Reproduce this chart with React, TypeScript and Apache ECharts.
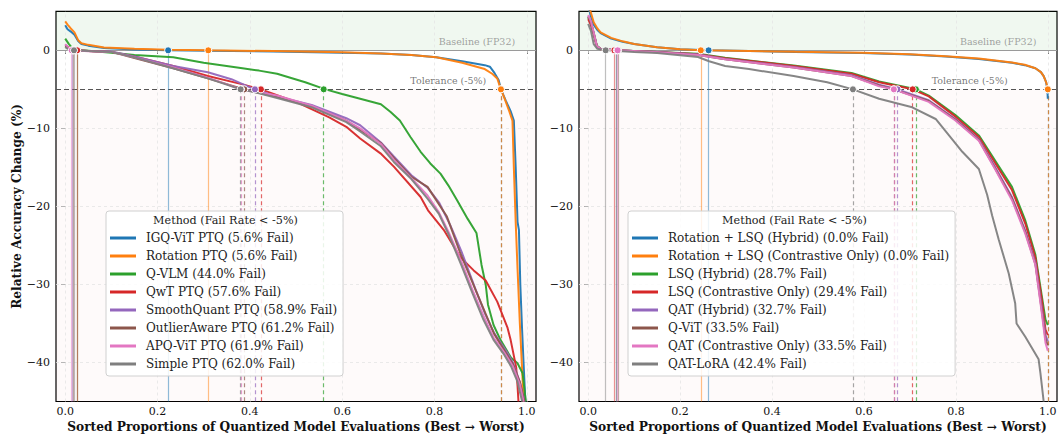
import React, { useEffect, useRef } from "react";
import * as echarts from "echarts";

// ---------- data ----------
const X_TICKS = [0, 0.2, 0.4, 0.6, 0.8, 1.0];
const Y_TICKS = [-40, -30, -20, -10, 0];

const LEFT_METHODS = ["IGQ-ViT PTQ", "Rotation PTQ", "Q-VLM", "QwT PTQ", "SmoothQuant PTQ", "OutlierAware PTQ", "APQ-ViT PTQ", "Simple PTQ"];
const LEFT_FAIL = [5.6, 5.6, 44.0, 57.6, 58.9, 61.2, 61.9, 62.0];
const LEFT_ZERO = [0.223, 0.31, 0.025, 0.026, 0.016, 0.018, 0.014, 0.019];

const RIGHT_METHODS = ["Rotation + LSQ (Hybrid)", "Rotation + LSQ (Contrastive Only)", "LSQ (Hybrid)", "LSQ (Contrastive Only)", "QAT (Hybrid)", "Q-ViT", "QAT (Contrastive Only)", "QAT-LoRA"];
const RIGHT_FAIL = [0.0, 0.0, 28.7, 29.4, 32.7, 33.5, 33.5, 42.4];
const RIGHT_ZERO = [0.262, 0.245, 0.06, 0.057, 0.062, 0.065, 0.064, 0.038];

const igqVit = [[0,3.2],[0.005,2.7],[0.012,2.4],[0.02,2.0],[0.028,1.2],[0.035,0.8],[0.05,0.6],[0.084,0.3],[0.15,0.12],[0.223,0],[0.31,-0.05],[0.45,-0.15],[0.6,-0.3],[0.684,-0.4],[0.75,-0.6],[0.804,-0.9],[0.86,-1.4],[0.909,-1.9],[0.92,-2.1],[0.93,-2.9],[0.939,-3.8],[0.944,-5],[0.955,-6.5],[0.965,-7.8],[0.972,-9],[0.976,-15],[0.98,-22],[0.983,-23],[0.986,-30],[0.99,-36],[0.993,-40],[0.997,-45]];
const rotationPtq = [[0,3.7],[0.005,3.3],[0.012,2.8],[0.02,2.3],[0.028,1.3],[0.035,0.9],[0.05,0.7],[0.084,0.35],[0.15,0.2],[0.223,0.08],[0.31,0],[0.45,-0.1],[0.6,-0.25],[0.684,-0.4],[0.75,-0.6],[0.804,-0.9],[0.86,-1.6],[0.909,-2.4],[0.925,-3.0],[0.936,-3.6],[0.944,-5],[0.952,-6.2],[0.962,-7.8],[0.969,-9],[0.972,-15],[0.976,-22],[0.98,-28],[0.985,-35],[0.99,-41],[0.993,-45]];
const qVlm = [[0,1.5],[0.008,0.8],[0.015,0.3],[0.025,0],[0.05,-0.05],[0.1,-0.3],[0.15,-0.6],[0.234,-0.9],[0.3,-1.6],[0.384,-2.3],[0.42,-2.6],[0.459,-3.0],[0.52,-4.1],[0.564,-5],[0.6,-5.6],[0.639,-6.2],[0.684,-6.9],[0.705,-7.9],[0.725,-9],[0.748,-11.1],[0.77,-13],[0.791,-14.5],[0.813,-15.8],[0.83,-17.3],[0.849,-19.2],[0.872,-21.6],[0.891,-23.4],[0.902,-27.5],[0.911,-30],[0.916,-32.6],[0.928,-35.2],[0.943,-37.1],[0.966,-39.4],[0.98,-40.1],[0.991,-41.4],[0.998,-45]];
const qwtPtq = [[0,0.6],[0.01,0.3],[0.026,0],[0.05,-0.1],[0.1,-0.2],[0.15,-0.8],[0.234,-2.0],[0.309,-3.3],[0.38,-4.3],[0.424,-5],[0.5,-6.6],[0.572,-8.6],[0.609,-9.8],[0.639,-11.3],[0.683,-13.2],[0.712,-14.9],[0.77,-18.8],[0.786,-20.5],[0.82,-23],[0.856,-26.5],[0.885,-28.2],[0.911,-29.5],[0.936,-32.2],[0.958,-35.5],[0.965,-37.1],[0.977,-40.6],[0.98,-43],[0.982,-45]];
const smoothQuantPtq = [[0,0.7],[0.006,0.4],[0.012,0.15],[0.016,0],[0.05,-0.1],[0.1,-0.15],[0.15,-0.8],[0.234,-2.0],[0.309,-2.8],[0.36,-3.7],[0.41,-5],[0.459,-5.9],[0.534,-7.0],[0.609,-8.7],[0.639,-9.6],[0.684,-11.8],[0.712,-13.6],[0.75,-16],[0.785,-17.6],[0.81,-19.5],[0.835,-22.5],[0.86,-26],[0.89,-30.8],[0.91,-33.8],[0.93,-36.3],[0.955,-38.5],[0.97,-40],[0.985,-42.5],[0.995,-45]];
const outlierAwarePtq = [[0,0.5],[0.006,0.3],[0.012,0.1],[0.018,0],[0.05,-0.1],[0.1,-0.2],[0.15,-1.0],[0.234,-2.3],[0.309,-3.6],[0.388,-5],[0.459,-6.0],[0.534,-7.2],[0.609,-9.0],[0.639,-10.2],[0.684,-11.9],[0.712,-13.8],[0.75,-16.2],[0.785,-17.5],[0.827,-21.3],[0.856,-26],[0.892,-31.1],[0.929,-36.3],[0.955,-38.8],[0.97,-40.2],[0.985,-42.5],[0.995,-45]];
const apqVitPtq = [[0,0.8],[0.006,0.4],[0.014,0],[0.05,-0.12],[0.1,-0.2],[0.15,-0.9],[0.234,-2.2],[0.309,-3.5],[0.381,-5],[0.459,-5.8],[0.534,-7.1],[0.609,-9.0],[0.639,-10.0],[0.684,-12.0],[0.712,-14.0],[0.75,-16.4],[0.785,-18.6],[0.81,-20.8],[0.83,-23.2],[0.858,-27],[0.883,-30.8],[0.906,-34],[0.928,-36.8],[0.951,-38.7],[0.97,-40.5],[0.985,-42.8],[0.993,-45]];
const simplePtq = [[0,0.4],[0.005,0.2],[0.012,0.1],[0.019,0],[0.05,-0.1],[0.1,-0.2],[0.15,-0.9],[0.234,-2.3],[0.309,-3.6],[0.345,-4.3],[0.38,-5],[0.42,-5.5],[0.459,-6.1],[0.534,-7.3],[0.609,-9.2],[0.639,-10.4],[0.684,-12.3],[0.712,-14.3],[0.75,-16.5],[0.785,-19],[0.81,-21],[0.83,-23.5],[0.858,-27.5],[0.883,-31.2],[0.906,-34.5],[0.928,-37.1],[0.951,-39],[0.966,-40.5],[0.98,-42.5],[0.99,-45]];

const rotLsqHybrid = [[0,6],[0.005,4.5],[0.012,3.3],[0.02,2.6],[0.027,2.2],[0.05,1.5],[0.075,1.1],[0.1,0.8],[0.15,0.4],[0.2,0.15],[0.262,0],[0.35,-0.1],[0.45,-0.2],[0.596,-0.35],[0.7,-0.55],[0.778,-0.8],[0.85,-1.1],[0.922,-1.6],[0.95,-1.9],[0.973,-2.3],[0.985,-2.8],[0.991,-3.3],[0.996,-4],[0.999,-5],[1.0,-6.2]];
const rotLsqContrastive = [[0,6.5],[0.005,5],[0.012,3.6],[0.02,2.8],[0.027,2.3],[0.05,1.6],[0.075,1.15],[0.1,0.8],[0.15,0.4],[0.2,0.15],[0.245,0],[0.35,-0.08],[0.45,-0.18],[0.596,-0.3],[0.7,-0.5],[0.778,-0.75],[0.85,-1.05],[0.922,-1.55],[0.95,-1.85],[0.973,-2.3],[0.985,-2.8],[0.991,-3.3],[0.997,-4.2],[1.0,-5]];
const lsqHybrid = [[0,4.2],[0.006,3.5],[0.012,2.2],[0.019,0.6],[0.027,0.2],[0.06,0],[0.15,-0.2],[0.239,-0.45],[0.298,-0.95],[0.447,-1.95],[0.573,-2.9],[0.633,-4.0],[0.713,-5],[0.741,-5.8],[0.799,-8.3],[0.85,-10.9],[0.886,-14.2],[0.922,-17.5],[0.951,-21.8],[0.973,-26.2],[0.987,-31.5],[0.995,-34.5],[1.0,-35.2]];
const lsqContrastive = [[0,4.0],[0.006,3.2],[0.012,2.0],[0.019,0.5],[0.027,0.15],[0.057,0],[0.15,-0.22],[0.239,-0.5],[0.298,-1.0],[0.447,-2.0],[0.573,-3.0],[0.633,-4.1],[0.706,-5],[0.741,-5.9],[0.799,-8.5],[0.85,-11.1],[0.886,-14.5],[0.922,-17.9],[0.951,-22.2],[0.973,-26.6],[0.987,-32],[0.995,-35.8],[1.0,-36.5]];
const qatHybrid = [[0,4.4],[0.006,3.6],[0.012,2.2],[0.019,0.5],[0.027,0.2],[0.062,0],[0.15,-0.22],[0.239,-0.55],[0.298,-1.1],[0.447,-2.15],[0.573,-3.2],[0.633,-4.4],[0.673,-5],[0.741,-6.4],[0.799,-8.8],[0.85,-11.4],[0.886,-15],[0.922,-18.8],[0.951,-23.1],[0.973,-27.2],[0.987,-33],[0.995,-36.5],[1.0,-37.3]];
const qVit = [[0,4.3],[0.006,3.6],[0.012,2.2],[0.019,0.5],[0.027,0.2],[0.065,0],[0.15,-0.24],[0.239,-0.6],[0.298,-1.15],[0.447,-2.2],[0.573,-3.3],[0.633,-4.5],[0.665,-5],[0.741,-6.5],[0.799,-8.9],[0.85,-11.5],[0.886,-15.2],[0.922,-19],[0.951,-23.3],[0.973,-27.4],[0.987,-33.4],[0.995,-37],[1.0,-37.8]];
const qatContrastive = [[0,4.5],[0.006,3.7],[0.012,2.3],[0.019,0.5],[0.027,0.2],[0.064,0],[0.15,-0.25],[0.239,-0.6],[0.298,-1.15],[0.447,-2.2],[0.573,-3.3],[0.633,-4.6],[0.665,-5],[0.741,-6.6],[0.799,-9.0],[0.85,-11.6],[0.886,-15.3],[0.922,-19.2],[0.951,-23.5],[0.973,-27.5],[0.987,-33.7],[0.995,-37.5],[1.0,-38.5]];
const qatLora = [[0,3.4],[0.006,2.5],[0.012,0.8],[0.02,0.2],[0.038,0],[0.1,-0.2],[0.15,-0.35],[0.239,-0.85],[0.263,-1.4],[0.298,-2.0],[0.35,-2.4],[0.447,-3.3],[0.52,-4.1],[0.576,-5],[0.633,-6.2],[0.705,-7.3],[0.756,-8.8],[0.778,-10.4],[0.814,-13.0],[0.85,-15.2],[0.868,-18.5],[0.879,-21.2],[0.893,-24.2],[0.915,-28.6],[0.929,-32.4],[0.932,-35.0],[0.951,-36.7],[0.98,-39.6],[0.984,-41.4],[0.991,-45]];

const LEFT_CURVES = [igqVit, rotationPtq, qVlm, qwtPtq, smoothQuantPtq, outlierAwarePtq, apqVitPtq, simplePtq];
const RIGHT_CURVES = [rotLsqHybrid, rotLsqContrastive, lsqHybrid, lsqContrastive, qatHybrid, qVit, qatContrastive, qatLora];

const COLORS = ["#1f77b4", "#ff7f0e", "#2ca02c", "#d62728", "#9467bd", "#8c564b", "#e377c2", "#7f7f7f"];

const Y_MIN = -45;
const Y_MAX = 5;
const TOL = -5;

const FONT = "DejaVu Serif";

function legendName(m: string, f: number) {
  return `${m} (${f.toFixed(1)}% Fail)`;
}

function panelSeries(p: number, methods: string[], fails: number[], zeros: number[], curves: number[][][]) {
  const out: any[] = [];
  out.push({
    type: "line",
    name: "_bg" + p,
    xAxisIndex: p,
    yAxisIndex: p,
    data: [],
    z: 1,
    markArea: {
      silent: true,
      z: 0,
      data: [
        [{ yAxis: 0, itemStyle: { color: "rgba(44,160,44,0.07)" } }, { yAxis: Y_MAX }],
        [{ yAxis: TOL, itemStyle: { color: "rgba(214,39,40,0.025)" } }, { yAxis: Y_MIN }],
      ],
    },
    markLine: {
      silent: true,
      z: 1,
      symbol: ["none", "none"],
      label: { show: false },
      data: [
        ...X_TICKS.map((v) => ({ xAxis: v, lineStyle: { type: [3, 3], color: "#e4e4e4", width: 0.8 } })),
        ...Y_TICKS.filter((v) => v !== 0).map((v) => ({ yAxis: v, lineStyle: { type: [3, 3], color: "#e4e4e4", width: 0.8 } })),
        { yAxis: 0, lineStyle: { type: "solid", color: "#9a9a9a", width: 1.2 } },
        { yAxis: TOL, lineStyle: { type: [5, 3], color: "#555", width: 1.2 } },
      ],
    },
  });
  out.push({
    type: "scatter",
    name: "_txt" + p,
    xAxisIndex: p,
    yAxisIndex: p,
    symbolSize: 1,
    itemStyle: { color: "rgba(0,0,0,0)" },
    silent: true,
    z: 2,
    data: [
      { value: [0.892, 1.1], label: { show: true, position: "inside", formatter: "Baseline (FP32)", color: "#8a8a8a", fontSize: 9.5, fontFamily: FONT } },
      { value: [0.83, -3.9], label: { show: true, position: "inside", formatter: "Tolerance (-5%)", color: "#555", fontSize: 9.5, fontFamily: FONT } },
    ],
  });
  methods.forEach((m, i) => {
    const c = COLORS[i];
    const tx = 1 - fails[i] / 100;
    out.push({
      type: "line",
      name: legendName(m, fails[i]),
      xAxisIndex: p,
      yAxisIndex: p,
      data: curves[i],
      showSymbol: false,
      symbol: "none",
      z: 3,
      lineStyle: { width: 2, color: c, opacity: 0.95 },
      itemStyle: { color: c },
      markLine: {
        silent: true,
        z: 2,
        symbol: ["none", "none"],
        label: { show: false },
        data: [
          [{ coord: [zeros[i], 0], lineStyle: { type: "solid", color: c, opacity: 0.5, width: 1.2 } }, { coord: [zeros[i], Y_MIN] }],
          [{ coord: [tx, TOL], lineStyle: { type: [4, 3], color: c, opacity: 0.7, width: 1.2 } }, { coord: [tx, Y_MIN] }],
        ],
      },
      markPoint: {
        silent: true,
        z: 4,
        symbol: "circle",
        symbolSize: 7,
        label: { show: false },
        itemStyle: { color: c, borderColor: "#fff", borderWidth: 1 },
        data: [{ coord: [zeros[i], 0] }, { coord: [tx, TOL] }],
      },
    });
  });
  return out;
}

function xAxis(idx: number) {
  return {
    type: "value",
    gridIndex: idx,
    min: -0.02,
    max: 1.02,
    axisLine: { show: false },
    splitLine: { show: false },
    axisTick: { show: true, customValues: X_TICKS, length: 3.5, lineStyle: { color: "#000", width: 1 } },
    axisLabel: { customValues: X_TICKS, formatter: (v: number) => v.toFixed(1), color: "#111", fontSize: 11, fontFamily: FONT, margin: 4 },
    name: "Sorted Proportions of Quantized Model Evaluations (Best \u2192 Worst)",
    nameLocation: "middle",
    nameGap: 19,
    nameTextStyle: { fontFamily: FONT, fontWeight: "bold", fontSize: 12.2, color: "#111" },
  };
}

function yAxis(idx: number, showName: boolean) {
  return {
    type: "value",
    gridIndex: idx,
    min: Y_MIN,
    max: Y_MAX,
    axisLine: { show: false },
    splitLine: { show: false },
    axisTick: { show: true, customValues: Y_TICKS, length: 3.5, lineStyle: { color: "#000", width: 1 } },
    axisLabel: {
      customValues: Y_TICKS,
      formatter: (v: number) => (v < 0 ? "\u2212" + Math.abs(v) : String(v)),
      color: "#111",
      fontSize: 11,
      fontFamily: FONT,
      margin: 6,
    },
    name: showName ? "Relative Accuracy Change (%)" : "",
    nameLocation: "middle",
    nameGap: 33,
    nameTextStyle: { fontFamily: FONT, fontWeight: "bold", fontSize: 12.2, color: "#111" },
  };
}

function legend(left: number, names: string[]) {
  return {
    data: names,
    left,
    top: 211,
    z: 20,
    orient: "vertical",
    padding: [18, 6, 3, 4],
    itemWidth: 26,
    itemHeight: 3,
    itemGap: 0,
    icon: "rect",
    selectedMode: false,
    backgroundColor: "rgba(255,255,255,0.85)",
    borderColor: "#d0d0d0",
    borderWidth: 1,
    borderRadius: 3,
    textStyle: { fontFamily: FONT, fontSize: 12, color: "#222", lineHeight: 18, padding: [0, 0, 0, 5] },
  };
}

export default function App() {
  const ref = useRef<HTMLDivElement>(null);
  useEffect(() => {
    if (!ref.current) return;
    const chart = echarts.init(ref.current, undefined, { renderer: "svg" });
    const option: any = {
      animation: false,
      backgroundColor: "#fff",
      grid: [
        { left: 56, top: 11.3, width: 480, height: 390.2, show: true, borderColor: "#000", borderWidth: 1.2, backgroundColor: "transparent", containLabel: false, outerBoundsMode: "none" },
        { left: 579, top: 11.3, width: 478, height: 390.2, show: true, borderColor: "#000", borderWidth: 1.2, backgroundColor: "transparent", containLabel: false, outerBoundsMode: "none" },
      ],
      xAxis: [xAxis(0), xAxis(1)],
      yAxis: [yAxis(0, true), yAxis(1, false)],
      legend: [
        legend(106, LEFT_METHODS.map((m, i) => legendName(m, LEFT_FAIL[i]))),
        legend(628, RIGHT_METHODS.map((m, i) => legendName(m, RIGHT_FAIL[i]))),
      ],
      graphic: [
        { type: "text", z: 100, x: 225.5, y: 220.7, style: { text: "Method (Fail Rate < -5%)", fontFamily: FONT, fontSize: 11.2, fill: "#222", align: "center", verticalAlign: "middle" } },
        { type: "text", z: 100, x: 794.5, y: 220.7, style: { text: "Method (Fail Rate < -5%)", fontFamily: FONT, fontSize: 11.2, fill: "#222", align: "center", verticalAlign: "middle" } },
      ],
      series: [
        ...panelSeries(0, LEFT_METHODS, LEFT_FAIL, LEFT_ZERO, LEFT_CURVES),
        ...panelSeries(1, RIGHT_METHODS, RIGHT_FAIL, RIGHT_ZERO, RIGHT_CURVES),
      ],
    };
    chart.setOption(option);
    return () => chart.dispose();
  }, []);
  return <div ref={ref} style={{ position: "absolute", left: 0, top: 0, width: 1058, height: 434 }} />;
}
